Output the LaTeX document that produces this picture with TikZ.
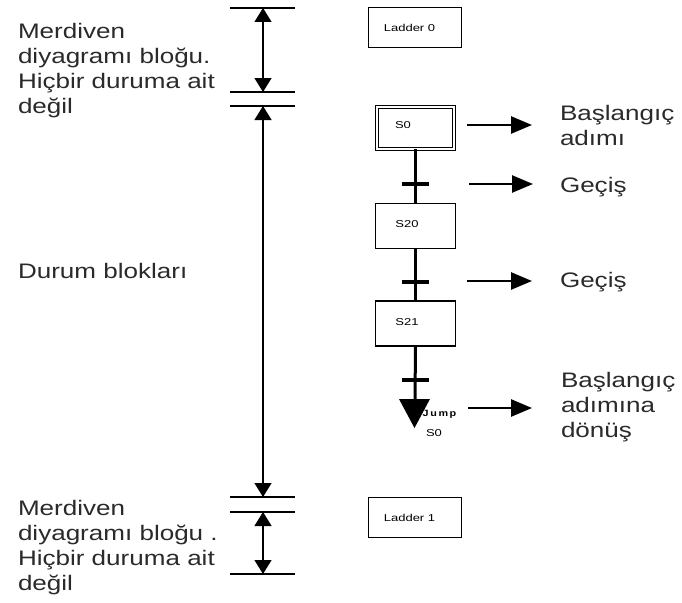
\documentclass[tikz,border=0pt]{standalone}
\usepackage{fontspec}
\setmainfont{Liberation Sans}
\newfontfamily\widefont[FakeStretch=1.24]{Liberation Sans}
\newfontfamily\boxfont[FakeStretch=1.3]{Liberation Sans}
\newfontfamily\jumpfont[FakeStretch=1.2,LetterSpace=18]{Liberation Sans}
\usetikzlibrary{arrows.meta}

\definecolor{labelgray}{HTML}{2A2A2A}

\tikzset{
  caption/.style={font=\widefont\fontsize{21}{25}\selectfont, text=labelgray,
    align=left, anchor=north west, inner sep=0pt, outer sep=0pt},
  boxtext/.style={font=\boxfont\fontsize{10}{12}\selectfont, inner sep=0pt},
  ladderbox/.style={draw, line width=1.2pt, minimum width=93pt, minimum height=40pt,
    inner sep=0pt, outer sep=0pt},
  statebox/.style={draw, line width=1.2pt, minimum width=80pt, minimum height=45pt,
    inner sep=0pt, outer sep=0pt},
  initstate/.style={draw, line width=1pt, double, double distance=1.6pt,
    minimum width=77.5pt, minimum height=42.5pt, inner sep=0pt, outer sep=0pt},
  transbar/.style={fill=black, minimum width=27pt, minimum height=3.6pt,
    inner sep=0pt, outer sep=0pt},
  flow/.style={line width=3pt},
  dimline/.style={line width=1.3pt},
  dimarrow/.style={line width=1.3pt,
    {Triangle[length=14pt,width=17pt]}-{Triangle[length=14pt,width=17pt]}},
  pointer/.style={line width=2.6pt, -{Triangle[length=21pt,width=17pt]}},
}

\begin{document}
\begin{tikzpicture}[x=1pt, y=-1pt]
\useasboundingbox (0,0) rectangle (682,602);

% ---- extent markers on the left -------------------------------------
\coordinate (l1w) at (230,8);   \coordinate (l1e) at (295,8);
\coordinate (l2w) at (230,92);  \coordinate (l2e) at (295,92);
\coordinate (l3w) at (230,106); \coordinate (l3e) at (295,106);
\coordinate (l4w) at (230,497); \coordinate (l4e) at (295,497);
\coordinate (l5w) at (230,512); \coordinate (l5e) at (295,512);
\coordinate (l6w) at (230,574); \coordinate (l6e) at (295,574);
\foreach \i in {1,...,6} \draw[dimline] (l\i w) -- (l\i e);

\coordinate (m1a) at (263,8);   \coordinate (m1b) at (263,92);
\coordinate (m2a) at (263,106); \coordinate (m2b) at (263,497);
\coordinate (m3a) at (263,512); \coordinate (m3b) at (263,574);
\draw[dimarrow] (m1a) -- (m1b);
\draw[dimarrow] (m2a) -- (m2b);
\draw[dimarrow] (m3a) -- (m3b);

% ---- captions on the left -------------------------------------------
\node[caption] (captop) at (18,23)
  {Merdiven\\diyagramı bloğu.\\Hiçbir duruma ait\\değil};
\node[caption] (capmid) at (18,263) {Durum blokları};
\node[caption] (capbot) at (18,500)
  {Merdiven\\diyagramı bloğu .\\Hiçbir duruma ait\\değil};

% ---- ladder blocks --------------------------------------------------
\node[ladderbox] (lad0) at (415,27.5) {};
\node[boxtext] (lad0t) at ([xshift=-5.5pt]lad0.center) {Ladder 0};
\node[ladderbox] (lad1) at (415,517.5) {};
\node[boxtext] (lad1t) at ([xshift=-5.5pt]lad1.center) {Ladder 1};

% ---- step chain -----------------------------------------------------
\node[initstate] (s0) at (415.5,128) {};
\node[boxtext] (s0t) at ([xshift=-12.5pt,yshift=3pt]s0.center) {S0};
\node[statebox] (s20) at (415.5,226) {};
\node[boxtext] (s20t) at ([xshift=-8.5pt,yshift=2pt]s20.center) {S20};
\node[statebox] (s21) at (415.5,323.5) {};
\node[boxtext] (s21t) at ([xshift=-8.5pt,yshift=1.5pt]s21.center) {S21};
\coordinate (jmp) at (415,399);

\draw[flow] (s0.south) -- (s20.north);
\draw[flow] (s20.south) -- (s21.north);
\draw[flow] (s21.south) -- (jmp);

\node[transbar] (t1) at (415.5,184) {};
\node[transbar] (t2) at (415.5,282) {};
\node[transbar] (t3) at (415.5,380) {};

% jump symbol
\fill (jmp) ++(-16,0) -- ++(31,0) -- ++(-15.5,29) -- cycle;
\node[font=\jumpfont\bfseries\fontsize{9}{11}\selectfont, inner sep=0pt]
  (jmpt) at (439.5,414) {Jump};
\node[boxtext] (jmps) at (434,433.5) {S0};

% ---- explanatory pointers -------------------------------------------
\coordinate (p1a) at (467,125); \coordinate (p1b) at (532,125);
\coordinate (p2a) at (469,184); \coordinate (p2b) at (533,184);
\coordinate (p3a) at (467,281); \coordinate (p3b) at (532,281);
\coordinate (p4a) at (468,408); \coordinate (p4b) at (532,408);
\foreach \i in {1,...,4} \draw[pointer] (p\i a) -- (p\i b);

\node[caption] (cinit) at (560,105) {Başlangıç\\adımı};
\node[caption] (ctr1) at (560,177) {Geçiş};
\node[caption] (ctr2) at (560,272) {Geçiş};
\node[caption] (cret) at (561,372) {Başlangıç\\adımına\\dönüş};

\end{tikzpicture}
\end{document}
